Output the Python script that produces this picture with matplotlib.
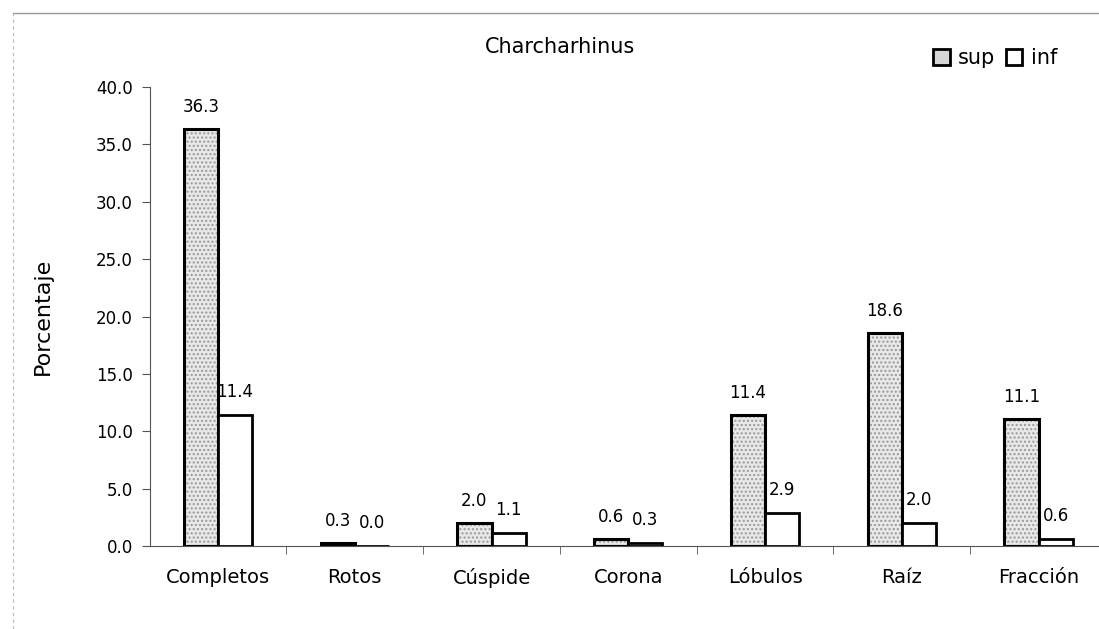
import numpy as np
import matplotlib
matplotlib.use("Agg")
import matplotlib.pyplot as plt
from matplotlib.lines import Line2D
from matplotlib.patches import Patch

plt.rcParams["font.family"] = ["DejaVu Sans"]

# data
categories = ["Completos", "Rotos", "Cúspide", "Corona", "Lóbulos", "Raíz", "Fracción"]
sup = [36.3, 0.3, 2.0, 0.6, 11.4, 18.6, 11.1]
inf = [11.4, 0.0, 1.1, 0.3, 2.9, 2.0, 0.6]
yticks = [0, 5, 10, 15, 20, 25, 30, 35, 40]

fig = plt.figure(figsize=(10.99, 6.29), dpi=100)
ax = fig.add_axes([149.6 / 1099, 83 / 629, (1107 - 149.6) / 1099, 459 / 629])

x = np.arange(len(categories))
w = 0.25

# stippled sup bars: hatch layer then black outline
ax.bar(x - w / 2, sup, w, color="#e8e8e8", hatch="....", edgecolor="#999999", linewidth=0)
ax.bar(x - w / 2, sup, w, fill=False, edgecolor="black", linewidth=2.2)
ax.bar(x + w / 2, inf, w, color="white", edgecolor="black", linewidth=2)

for xi, v in zip(x, sup):
    ax.annotate(f"{v:.1f}", (xi - w / 2, v), xytext=(0, 22), textcoords="offset pixels",
                ha="center", va="center", fontsize=12)
for xi, v in zip(x, inf):
    ax.annotate(f"{v:.1f}", (xi + w / 2, v), xytext=(0, 23), textcoords="offset pixels",
                ha="center", va="center", fontsize=12)

ax.set_xlim(-0.5, len(categories) - 0.5)
ax.set_ylim(0, 40)
ax.set_yticks(yticks)
ax.set_yticklabels([f"{t:.1f}" for t in yticks], fontsize=12)
ax.set_xticks(x)
ax.set_xticklabels(categories, fontsize=14)
ax.set_xticks(np.arange(len(categories)) + 0.5, minor=True)
ax.tick_params(axis="x", which="major", length=0, pad=16)
ax.tick_params(axis="x", which="minor", length=6, direction="out", color="#555555")
ax.tick_params(axis="y", length=6, color="#555555", pad=6)

ax.spines["top"].set_visible(False)
ax.spines["right"].set_visible(False)
ax.spines["left"].set_color("#555555")
ax.spines["bottom"].set_color("#555555")

ax.set_ylabel("Porcentaje", fontsize=16, labelpad=31)
fig.text(560 / 1099, 1 - 47 / 629, "Charcharhinus", ha="center", va="center", fontsize=15)

# legend
handles = [Patch(facecolor="#d6d6d6", edgecolor="black", linewidth=2, label="sup"),
           Patch(facecolor="white", edgecolor="black", linewidth=2, label="inf")]
fig.legend(handles=handles, loc="center", bbox_to_anchor=(995 / 1099, 1 - 58 / 629), ncol=2,
           frameon=False, fontsize=15, handlelength=0.8, handleheight=0.8,
           handletextpad=0.4, columnspacing=0.5)

# outer frame lines
fig.add_artist(Line2D([13 / 1099, 1.0], [1 - 13 / 629, 1 - 13 / 629], color="#999999", lw=1))
fig.add_artist(Line2D([13 / 1099, 13 / 1099], [0, 1 - 13 / 629], color="#bbbbbb", lw=0.8, ls=(0, (3, 3))))

fig.savefig("out.png", dpi=100)
